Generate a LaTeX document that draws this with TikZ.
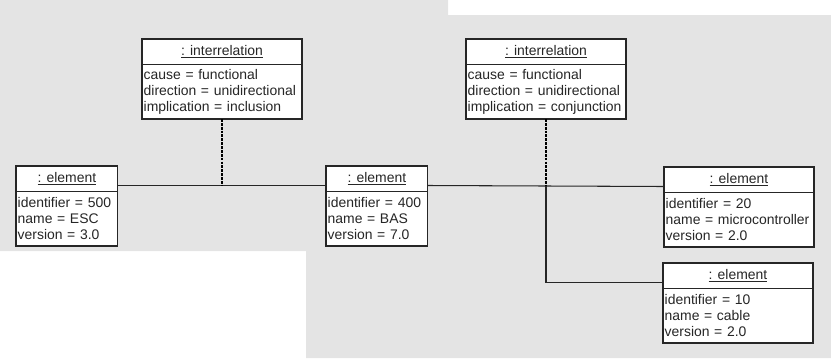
\documentclass[tikz,border=0pt]{standalone}
\usepackage{fontspec}
\setmainfont{Liberation Sans}
\usetikzlibrary{positioning}
\definecolor{scan}{HTML}{E4E4E4}
\definecolor{ink}{HTML}{262626}
\tikzset{
    objhead/.style={draw=ink, fill=white, line width=1.1pt, outer sep=0pt, inner sep=0pt,
        minimum height=0.77cm, text=ink, font=\fontsize{11.9}{13.6}\selectfont},
    objbody/.style={draw=ink, fill=white, line width=1.1pt, outer sep=0pt, inner xsep=1.5pt,
        inner ysep=0pt, minimum height=1.63cm, align=left, text=ink,
        font=\fontsize{11.9}{13.6}\selectfont},
    link/.style={draw=ink, line width=0.9pt},
    relink/.style={draw=black, line width=2.3pt, dash pattern=on 2.4pt off 0.9pt}
}
\begin{document}
\begin{tikzpicture}[x=0.03cm, y=-0.03cm]
                \useasboundingbox (0,0) rectangle (831,358);
                \fill[scan] (0,0) -- (448,0) -- (448,15) -- (831,15) -- (831,358) -- (306,358) -- (306,251) -- (0,251) -- cycle;
                \node[objhead, minimum width=4.8cm, anchor=north west] (rel1-h) at (142,39) {\underline{: interrelation}};
                \node[objbody, text width=4.7cm, below=0pt of rel1-h] (rel1) {cause = functional\\direction = unidirectional\\implication = inclusion};
                \node[objhead, minimum width=4.8cm, anchor=north west] (rel2-h) at (466,39) {\underline{: interrelation}};
                \node[objbody, text width=4.7cm, below=0pt of rel2-h] (rel2) {cause = functional\\direction = unidirectional\\implication = conjunction};
                \node[objhead, minimum width=3.05cm, anchor=north west] (esc-h) at (16,166) {\underline{: element}};
                \node[objbody, text width=2.95cm, below=0pt of esc-h] (esc) {identifier = 500\\name = ESC\\version = 3.0};
                \node[objhead, minimum width=3.05cm, anchor=north west] (bas-h) at (326,166) {\underline{: element}};
                \node[objbody, text width=2.95cm, below=0pt of bas-h] (bas) {identifier = 400\\name = BAS\\version = 7.0};
                \node[objhead, minimum width=4.5cm, anchor=north west] (micro-h) at (664,167) {\underline{: element}};
                \node[objbody, text width=4.4cm, below=0pt of micro-h] (micro) {identifier = 20\\name = microcontroller\\version = 2.0};
                \node[objhead, minimum width=4.5cm, anchor=north west] (cable-h) at (663,263) {\underline{: element}};
                \node[objbody, text width=4.4cm, below=0pt of cable-h] (cable) {identifier = 10\\name = cable\\version = 2.0};
                \coordinate (busL) at ([yshift=-0.2cm]esc-h.east);
                \coordinate (busC) at ([yshift=-0.2cm]cable-h.west);
                \draw[link] (busL) -- ([yshift=-0.2cm]bas-h.west);
                \draw[link] ([yshift=-0.2cm]bas-h.east) -- ([yshift=-0.2cm]micro-h.west);
                \draw[link] (rel2.south |- busL) |- (busC);
                \draw[relink] (rel1.south) -- (rel1.south |- busL);
                \draw[relink] (rel2.south) -- (rel2.south |- busL);
            \end{tikzpicture}
\end{document}
